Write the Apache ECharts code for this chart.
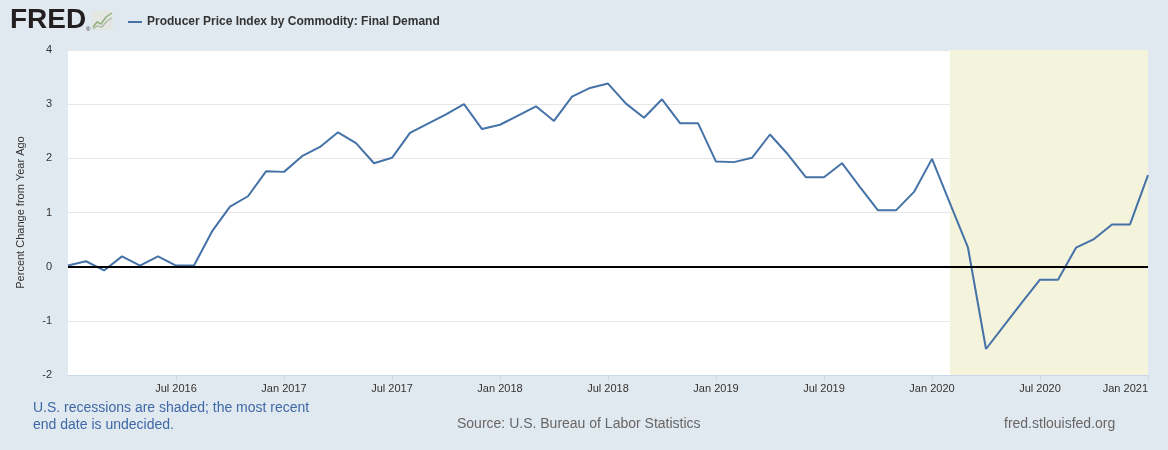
<!DOCTYPE html>
<html>
<head>
<meta charset="utf-8">
<script src="https://cdn.jsdelivr.net/npm/echarts@6/dist/echarts.min.js"></script>
<style>
html,body{margin:0;padding:0;background:#e1e9f0;}
#chart{width:1168px;height:450px;}
</style>
</head>
<body>
<div id="chart"></div>
<script>
// Months (Jan 2016 .. Jan 2021)
const months = [
 '2016-01','2016-02','2016-03','2016-04','2016-05','2016-06','2016-07','2016-08','2016-09','2016-10','2016-11','2016-12',
 '2017-01','2017-02','2017-03','2017-04','2017-05','2017-06','2017-07','2017-08','2017-09','2017-10','2017-11','2017-12',
 '2018-01','2018-02','2018-03','2018-04','2018-05','2018-06','2018-07','2018-08','2018-09','2018-10','2018-11','2018-12',
 '2019-01','2019-02','2019-03','2019-04','2019-05','2019-06','2019-07','2019-08','2019-09','2019-10','2019-11','2019-12',
 '2020-01','2020-02','2020-03','2020-04','2020-05','2020-06','2020-07','2020-08','2020-09','2020-10','2020-11','2020-12',
 '2021-01'
];
// Producer Price Index by Commodity: Final Demand, percent change from year ago
const ppiChange = [
 0.02, 0.10, -0.07, 0.19, 0.02, 0.19, 0.02, 0.02, 0.65, 1.11, 1.30, 1.76,
 1.75, 2.04, 2.21, 2.48, 2.28, 1.91, 2.01, 2.47, 2.64, 2.81, 3.00, 2.54,
 2.62, 2.79, 2.96, 2.69, 3.14, 3.30, 3.38, 3.01, 2.75, 3.09, 2.65, 2.65,
 1.94, 1.93, 2.01, 2.44, 2.07, 1.65, 1.65, 1.91, 1.47, 1.04, 1.04, 1.38,
 1.99, 1.17, 0.35, -1.52, -1.09, -0.66, -0.24, -0.24, 0.35, 0.51, 0.78, 0.78,
 1.69
];
// Recession shading (start month, end month)
const recession = ['2020-02', '2021-01'];
// Y-axis ticks
const yTicks = {min: -2, max: 4, interval: 1};
const zeroLine = 0;
const monthNames = ['Jan','Feb','Mar','Apr','May','Jun','Jul','Aug','Sep','Oct','Nov','Dec'];

function showTick(i){ return i > 0 && i % 6 === 0; }
function fmtMonth(v){
  const p = v.split('-');
  return monthNames[parseInt(p[1],10)-1] + ' ' + p[0];
}

const chart = echarts.init(document.getElementById('chart'), null, {renderer:'canvas'});
const font = "'Liberation Sans', Arial, sans-serif";

chart.setOption({
  backgroundColor: '#e1e9f0',
  animation: false,
  textStyle: {fontFamily: font},
  grid: {left: 68, right: 20, top: 50, bottom: 75, show: true, backgroundColor: '#ffffff', borderWidth: 0},
  legend: {
    left: 123, top: 11,
    icon: 'rect', itemWidth: 14, itemHeight: 2, itemGap: 10,
    textStyle: {fontFamily: font, fontSize: 12, fontWeight: 'bold', color: '#333333'},
    data: ['Producer Price Index by Commodity: Final Demand']
  },
  xAxis: {
    type: 'category',
    data: months,
    boundaryGap: false,
    axisLine: {show: true, onZero: false, lineStyle: {color: '#ccd6eb', width: 1}},
    axisTick: {show: true, interval: (i) => showTick(i), length: 6, lineStyle: {color: '#ccd6eb'}},
    axisLabel: {
      interval: (i) => showTick(i),
      formatter: (v) => fmtMonth(v),
      color: '#333333', fontSize: 11, fontFamily: font, margin: 8,
      alignMaxLabel: 'right'
    },
    splitLine: {show: false}
  },
  yAxis: {
    type: 'value',
    min: yTicks.min, max: yTicks.max, interval: yTicks.interval,
    name: 'Percent Change from Year Ago',
    nameLocation: 'middle', nameGap: 42,
    nameTextStyle: {color: '#333333', fontSize: 11, fontFamily: font},
    axisLine: {show: false},
    axisTick: {show: false},
    axisLabel: {color: '#333333', fontSize: 11, fontFamily: font, margin: 16},
    splitLine: {lineStyle: {color: '#e6e6e6', width: 1}}
  },
  series: [{
    name: 'Producer Price Index by Commodity: Final Demand',
    type: 'line',
    data: ppiChange,
    symbol: 'none',
    color: '#4572a7',
    lineStyle: {color: '#4572a7', width: 2},
    z: 3,
    markArea: {
      silent: true,
      itemStyle: {color: '#f4f3dc'},
      data: [[{xAxis: recession[0]}, {xAxis: recession[1]}]]
    },
    markLine: {
      silent: true,
      symbol: ['none','none'],
      label: {show: false},
      lineStyle: {color: '#000000', width: 2, type: 'solid'},
      data: [{yAxis: zeroLine}]
    }
  }],
  graphic: [
    {type: 'text', left: 10, top: 6, style: {text: 'FRED', font: "bold 28px 'Liberation Sans', Arial, sans-serif", fill: '#231f20'}},
    {type: 'text', left: 86, top: 26, style: {text: '®', font: "6px 'Liberation Sans', Arial", fill: '#231f20'}},
    {type: 'rect', shape: {x: 92, y: 11, width: 21, height: 19}, style: {fill: '#e4e6e2'}},
    {type: 'polyline', shape: {points: [[93,27],[97,22],[101,24],[106,17],[112,13]]}, style: {stroke: '#8fb07a', lineWidth: 1.5, fill: null}},
    {type: 'polyline', shape: {points: [[93,29],[97,26],[102,27],[107,21],[112,18]]}, style: {stroke: '#a9b9a0', lineWidth: 1.2, fill: null}},
    {type: 'text', left: 33, top: 400, style: {text: 'U.S. recessions are shaded; the most recent\nend date is undecided.', font: "14px 'Liberation Sans', Arial, sans-serif", fill: '#3e68a6', lineHeight: 17}},
    {type: 'text', left: 457, top: 417, style: {text: 'Source: U.S. Bureau of Labor Statistics', font: "14px 'Liberation Sans', Arial, sans-serif", fill: '#666666'}},
    {type: 'text', left: 1004, top: 417, style: {text: 'fred.stlouisfed.org', font: "14px 'Liberation Sans', Arial, sans-serif", fill: '#666666'}}
  ]
});
</script>
</body>
</html>
